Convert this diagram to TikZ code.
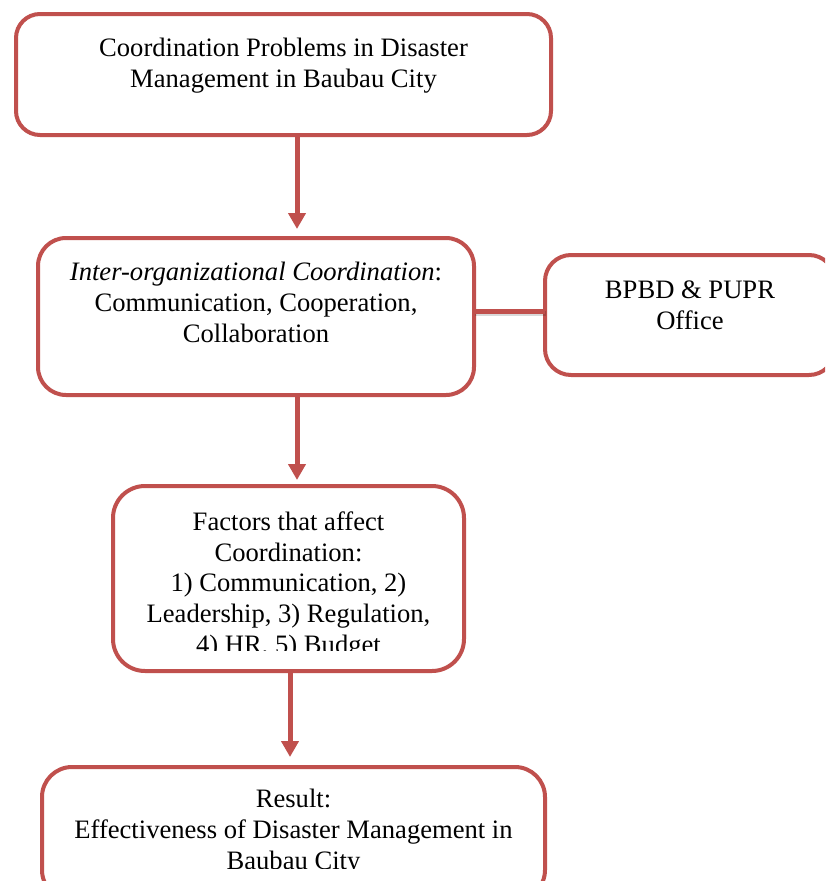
\documentclass[tikz,border=0pt]{standalone}
\usepackage{fontspec}
\setmainfont{Liberation Serif}
\usetikzlibrary{arrows.meta}
\definecolor{acc}{HTML}{C0504D}
\begin{document}
\begin{tikzpicture}[x=1pt,y=-1pt,
  boxshape/.style={draw=acc, line width=4pt, rectangle, inner sep=0pt, outer sep=0pt},
  txt/.style={anchor=base, align=center, inner sep=0pt, font=\fontsize{26.6}{30.6}\selectfont},
  link/.style={draw=acc, line width=5pt},
  arr/.style={link, -{Triangle[width=17pt,length=16pt]}},
  shade/.style={draw=black, opacity=0.15, line width=5pt}]
\useasboundingbox (0,0) rectangle (825,881);
\clip (0,0) rectangle (825,881);
\fill[white] (0,0) rectangle (825,881);
% boxes
\node[boxshape, rounded corners=24pt, minimum width=535pt, minimum height=121pt] (top) at (283.5,74.5) {};
\node[boxshape, rounded corners=28pt, minimum width=436pt, minimum height=157pt] (mid) at (256,316.5) {};
\node[boxshape, rounded corners=26pt, minimum width=290pt, minimum height=120pt] (right) at (690,315) {};
\node[boxshape, rounded corners=32pt, minimum width=351pt, minimum height=185pt] (fac) at (288.5,578.5) {};
\node[boxshape, rounded corners=30pt, minimum width=503pt, minimum height=133pt] (res) at (293.5,833.5) {};
% connectors
\coordinate (a1) at (297,0);
\coordinate (a3) at (290,0);
\coordinate (hy) at (0,311);
\draw[shade] ([xshift=1pt,yshift=-2pt]mid.east |- hy) -- ([xshift=1pt,yshift=-2pt]right.west |- hy);
\draw[link] (mid.east |- hy) -- (right.west |- hy);
\draw[arr, shorten >=9pt] (top.south -| a1) -- (mid.north -| a1);
\draw[arr, shorten >=6pt] (mid.south -| a1) -- (fac.north -| a1);
\draw[arr, shorten >=10pt] (fac.south -| a3) -- (res.north -| a3);
% texts (anchor = baseline of the last line)
\node[txt] (ttop) at (283.5,87) {Coordination Problems in Disaster\\Management in Baubau City};
\node[txt] (tmid) at (256,342) {\textit{Inter-organizational Coordination}:\\Communication, Cooperation,\\Collaboration};
\node[txt] (tright) at (690,329) {BPBD \& PUPR\\Office};
\begin{scope}
\clip (100,480) rectangle (480,650);
\node[txt] (tfac) at (288.5,653) {Factors that affect\\Coordination:\\1) Communication, 2)\\Leadership, 3) Regulation,\\4) HR, 5) Budget};
\end{scope}
\begin{scope}
\clip (40,770) rectangle (550,868);
\node[txt] (tres) at (293.5,869) {Result:\\Effectiveness of Disaster Management in\\Baubau City};
\end{scope}
\end{tikzpicture}
\end{document}
